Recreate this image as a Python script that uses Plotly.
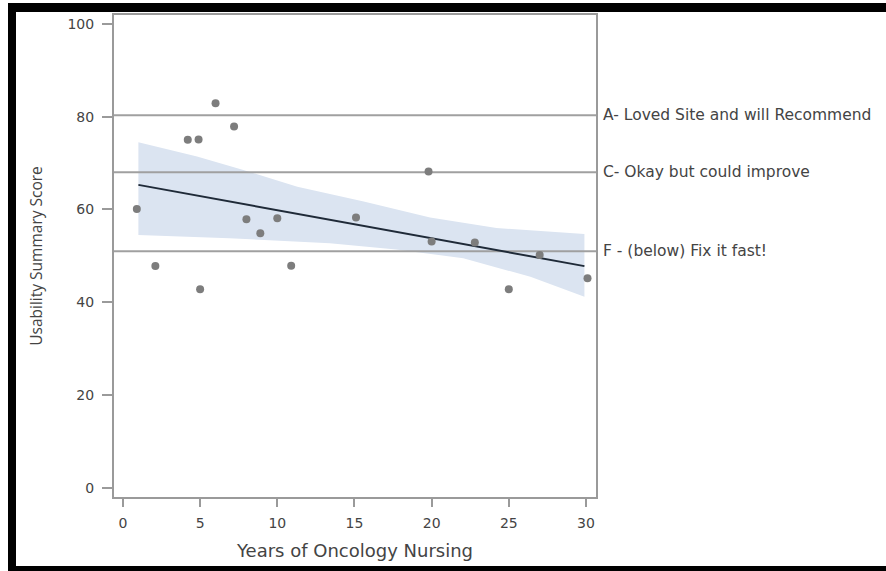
import plotly.graph_objects as go

# Data
years = [0.9, 2.1, 4.2, 4.9, 5.0, 6.0, 7.2, 8.0, 8.9, 10.0, 10.9, 15.1, 19.8, 20.0, 22.8, 25.0, 27.0, 30.1]
scores = [60.1, 47.8, 75.0, 75.1, 42.8, 82.9, 77.9, 57.9, 54.9, 58.1, 47.9, 58.3, 68.2, 53.1, 52.9, 42.8, 50.2, 45.2]

# Confidence band boundaries
band_upper_x = [1.0, 4.8, 7.8, 11.3, 15.6, 19.9, 24.2, 29.9]
band_upper_y = [74.5, 71.4, 68.5, 64.9, 61.7, 58.3, 56.0, 54.7]
band_lower_x = [1.0, 6.9, 13.4, 17.7, 22.05, 26.4, 29.9]
band_lower_y = [54.5, 53.8, 52.7, 51.4, 49.5, 45.5, 41.2]

# Fitted line end points
fit_x = [1.0, 29.9]
fit_y = [65.3, 47.8]

grade_values = [80.3, 68.0, 51.0]
grade_labels = ["A- Loved Site and will Recommend", "C- Okay but could improve", "F - (below) Fix it fast!"]

x_ticks = [0, 5, 10, 15, 20, 25, 30]
y_ticks = [0, 20, 40, 60, 80, 100]
x_range = [-0.58, 30.65]
y_range = [-1.94, 101.9]

FONT = "DejaVu Sans"
TXT = "#444444"
fig = go.Figure()

fig.add_trace(go.Scatter(
    x=band_upper_x + band_lower_x[::-1] + band_upper_x[:1],
    y=band_upper_y + band_lower_y[::-1] + band_upper_y[:1],
    fill="toself", fillcolor="#dbe4f1", line=dict(width=0),
    mode="lines", hoverinfo="skip", showlegend=False))

for gv in grade_values:
    fig.add_trace(go.Scatter(
        x=x_range, y=[gv, gv], mode="lines",
        line=dict(color="#a0a0a0", width=2), showlegend=False, hoverinfo="skip"))

fig.add_trace(go.Scatter(
    x=fit_x, y=fit_y, mode="lines", line=dict(color="#1f2a38", width=2), showlegend=False))

fig.add_trace(go.Scatter(
    x=years, y=scores, mode="markers",
    marker=dict(color="#7d7d7d", size=8), showlegend=False))

for gv, gl in zip(grade_values, grade_labels):
    fig.add_annotation(
        x=1, xref="paper", y=gv, yref="y", text=gl, showarrow=False,
        xanchor="left", xshift=5, font=dict(family=FONT, size=15.5, color=TXT))

# Black frame around image (pixel -> paper conversion)
L, R, T, B = 114, 596, 15, 497
W, H = R - L, B - T
def px(v):
    return (v - L) / W
def py(v):
    return (B - v) / H

for x0, y0, x1, y1 in [(8, 3, 16, 571), (8, 3, 886, 12), (8, 566, 886, 571)]:
    fig.add_shape(type="rect", xref="paper", yref="paper",
                  x0=px(x0), x1=px(x1), y0=py(y1), y1=py(y0),
                  fillcolor="black", line=dict(width=0), layer="above")

axis_common = dict(
    showgrid=False, zeroline=False, showline=True, linecolor="#9a9a9a", linewidth=2,
    mirror=True, ticks="outside", tickwidth=1.5, tickcolor="#9a9a9a",
    tickfont=dict(family=FONT, size=14, color=TXT),
)

fig.update_layout(
    width=886, height=571,
    margin=dict(l=L, r=886 - R, t=T, b=571 - B),
    paper_bgcolor="white", plot_bgcolor="white",
    showlegend=False,
    xaxis=dict(range=x_range, tickvals=x_ticks, ticklen=8, ticklabelstandoff=4,
               title=dict(text="Years of Oncology Nursing", standoff=15,
                          font=dict(family=FONT, size=18, color=TXT)),
               **axis_common),
    yaxis=dict(range=y_range, tickvals=y_ticks, ticklen=10, ticklabelstandoff=5,
               title=dict(text="Usability Summary Score", standoff=21,
                          font=dict(family="Open Sans", size=15.5, color=TXT)),
               **axis_common),
)

fig.write_html("out.html")
